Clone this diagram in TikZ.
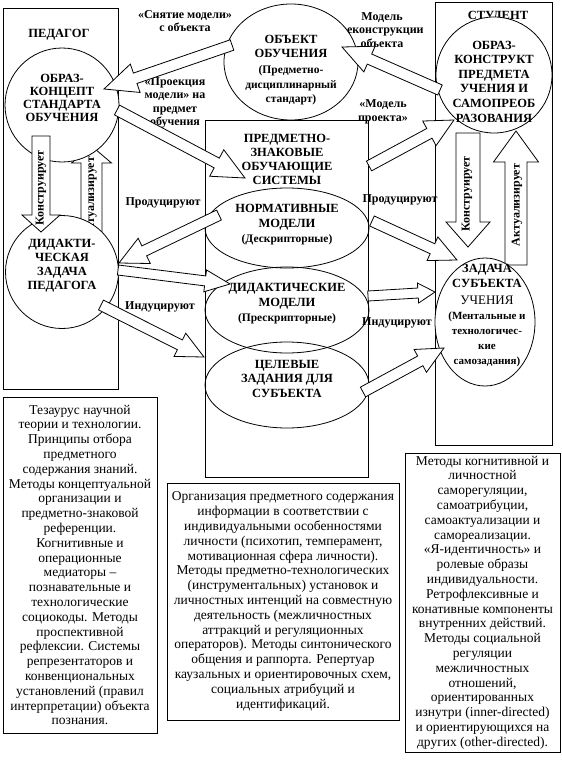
\documentclass[tikz,border=0pt]{standalone}
\usepackage{fontspec}
\setmainfont{Liberation Serif}
\usetikzlibrary{calc,shapes.geometric}
\tikzset{
  frame/.style={draw, line width=0.8pt, inner sep=0pt, outer sep=0pt},
  circ/.style={draw, ellipse, line width=0.8pt, inner sep=0pt, outer sep=0pt},
  wcirc/.style={circ, fill=white},
  hd/.style={font=\bfseries\fontsize{12.5}{14}\selectfont, align=center, inner sep=0pt},
  sm/.style={font=\bfseries\fontsize{11.5}{14.5}\selectfont, align=center, inner sep=0pt},
  lbl/.style={font=\bfseries\fontsize{12}{13.5}\selectfont, align=center, inner sep=0pt},
  rot/.style={font=\bfseries\fontsize{12}{13}\selectfont, inner sep=0pt, rotate=90},
  body/.style={font=\fontsize{13.5}{14.8}\selectfont, align=center},
  barr/.style={draw, fill=white, line width=0.8pt, line join=miter},
}
% #1 tail, #2 tip, #3 shaft half width, #4 head half width, #5 head length, #6 name of head base
\newcommand{\blockarr}[6]{%
  \coordinate (#6) at ($(#2)!#5!(#1)$);
  \draw[barr] ($(#1)!#3!90:(#2)$) -- ($(#6)!#3!90:(#2)$) -- ($(#6)!#4!90:(#2)$) -- (#2)
    -- ($(#6)!#4!-90:(#2)$) -- ($(#6)!#3!-90:(#2)$) -- ($(#1)!#3!-90:(#2)$) -- cycle;
}
\begin{document}
\begin{tikzpicture}[x=1pt,y=-1pt]
\useasboundingbox[fill=white] (0,0) rectangle (562,763);

% ---------- connector labels ----------
\node[lbl] (l-snyat) at (185,21) {«Снятие модели»\\с объекта};
\node[lbl] (l-proek) at (175,103) {«Проекция\\модели» на\\предмет\\обучения};
\node[lbl] (l-rekon) at (382,30) {Модель\\реконструкции\\объекта};
\node[lbl] (l-mproj) at (383,112) {«Модель\\проекта»};
\node[lbl] (l-prodL) at (163,203) {Продуцируют};
\node[lbl] (l-indL) at (160,307) {Индуцируют};
\node[lbl] (l-prodR) at (400,200) {Продуцируют};
\node[lbl] (l-indR) at (397,323) {Индуцируют};

% ---------- frames ----------
\node[frame, minimum width=115pt, minimum height=381pt] (ped) at (60.5,198.5) {};
\node[hd] (ped-t) at (59,35) {ПЕДАГОГ};
\node[frame, minimum width=117pt, minimum height=443pt] (stud) at (493.5,223.5) {};
\node[hd] (stud-t) at (498,17) {СТУДЕНТ};
\node[frame, minimum width=163pt, minimum height=357pt] (sys) at (286.5,298.5) {};

% ---------- bottom text boxes ----------
\node[frame, body, minimum width=154pt, minimum height=336pt] (txtL) at (80,565) {Тезаурус научной\\теории и технологии.\\Принципы отбора\\предметного\\содержания знаний.\\Методы концептуальной\\организации и\\предметно-знаковой\\референции.\\Когнитивные и\\операционные\\медиаторы –\\познавательные и\\технологические\\социокоды. Методы\\проспективной\\рефлексии. Системы\\репрезентаторов и\\конвенциональных\\установлений (правил\\интерпретации) объекта\\познания.};
\node[frame, body, minimum width=232pt, minimum height=237pt] (txtM) at (283,601.5) {Организация предметного содержания\\информации в соответствии с\\индивидуальными особенностями\\личности (психотип, темперамент,\\мотивационная сфера личности).\\Методы предметно-технологических\\(инструментальных) установок и\\личностных интенций на совместную\\деятельность (межличностных\\аттракций и регуляционных\\операторов). Методы синтонического\\общения и раппорта. Репертуар\\каузальных и ориентировочных схем,\\социальных атрибуций и\\идентификаций.};
\node[frame, body, minimum width=155pt, minimum height=299pt] (txtR) at (482.5,602.5) {Методы когнитивной и\\личностной\\саморегуляции,\\самоатрибуции,\\самоактуализации и\\самореализации.\\«Я-идентичность» и\\ролевые образы\\индивидуальности.\\Ретрофлексивные и\\конативные компоненты\\внутренних действий.\\Методы социальной\\регуляции\\межличностных\\отношений,\\ориентированных\\изнутри (inner-directed)\\и ориентирующихся на\\других (other-directed).};

% ---------- central ellipses ----------
\node[circ, minimum width=164pt, minimum height=80pt] (norm) at (287,228) {};
\node[circ, minimum width=164pt, minimum height=86pt] (didm) at (287,310) {};
\node[circ, minimum width=164pt, minimum height=86pt] (cel) at (287,385) {};

% ---------- up arrows (behind circles) ----------
\coordinate (upL-s) at (91.5,240);
\coordinate (upL-e) at (91.5,146);
\blockarr{upL-s}{upL-e}{10.5pt}{20pt}{17pt}{upL-b}
\node[rot] (upL-t) at (91.5,198) {Актуализирует};
\coordinate (upR-s) at (516,265);
\coordinate (upR-e) at (516,131);
\blockarr{upR-s}{upR-e}{11pt}{22.5pt}{31pt}{upR-b}
\node[rot] (upR-t) at (517,205) {Актуализирует};

% ---------- side circles ----------
\node[wcirc, minimum width=114pt, minimum height=114pt] (konc) at (62,105) {};
\node[hd, font=\bfseries\fontsize{12.5}{13}\selectfont] (konc-t) at (62,98) {ОБРАЗ-\\КОНЦЕПТ\\СТАНДАРТА\\ОБУЧЕНИЯ};
\node[wcirc, minimum width=113pt, minimum height=113pt] (didz) at (62,272) {};
\node[hd] (didz-t) at (62,266) {ДИДАКТИ-\\ЧЕСКАЯ\\ЗАДАЧА\\ПЕДАГОГА};
\node[wcirc, minimum width=134pt, minimum height=116pt] (obj) at (291,62) {};
\node[hd] (obj-t1) at (291,46) {ОБЪЕКТ\\ОБУЧЕНИЯ};
\node[sm] (obj-t2) at (291,85.5) {(Предметно-\\дисциплинарный\\стандарт)};
\node[wcirc, minimum width=116pt, minimum height=116pt] (kons) at (494,75) {};
\node[hd, font=\bfseries\fontsize{12.5}{14.6}\selectfont] (kons-t) at (494,81.5) {ОБРАЗ-\\КОНСТРУКТ\\ПРЕДМЕТА\\УЧЕНИЯ И\\САМОПРЕОБ\\РАЗОВАНИЯ};
\node[wcirc, minimum width=100pt, minimum height=128pt] (zad) at (485,322) {};
\node[hd, font=\bfseries\fontsize{12.5}{15}\selectfont] (zad-t1) at (487,275.5) {ЗАДАЧА\\СУБЪЕКТА};
\node[inner sep=0pt, font=\fontsize{13}{15}\selectfont] (zad-t2) at (487,300) {УЧЕНИЯ};
\node[sm, font=\bfseries\fontsize{11}{15}\selectfont] (zad-t3) at (487,339.5) {(Ментальные и\\технологичес-\\кие\\самозадания)};

% ---------- down arrows ----------
\coordinate (dnL-s) at (41,136);
\coordinate (dnL-e) at (41,232);
\blockarr{dnL-s}{dnL-e}{9pt}{19pt}{17pt}{dnL-b}
\node[rot] (dnL-t) at (41,188) {Конструирует};
\coordinate (dnR-s) at (468,133);
\coordinate (dnR-e) at (468,247);
\blockarr{dnR-s}{dnR-e}{12pt}{22pt}{25pt}{dnR-b}
\node[rot] (dnR-t) at (467,194) {Конструирует};

% ---------- diagonal block arrows ----------
\coordinate (a1s) at (232,45);   \coordinate (a1e) at (104,89);
\blockarr{a1s}{a1e}{5.5pt}{15pt}{33pt}{a1b}
\coordinate (a2s) at (117,110);  \coordinate (a2e) at (245,178);
\blockarr{a2s}{a2e}{5.5pt}{15pt}{32pt}{a2b}
\coordinate (a3s) at (440,90);   \coordinate (a3e) at (342,47);
\blockarr{a3s}{a3e}{5.5pt}{14pt}{30pt}{a3b}
\coordinate (a4s) at (369,166);  \coordinate (a4e) at (454,120);
\blockarr{a4s}{a4e}{5.5pt}{14pt}{28pt}{a4b}
\coordinate (a5s) at (219,215);  \coordinate (a5e) at (119,263);
\blockarr{a5s}{a5e}{5.5pt}{14pt}{28pt}{a5b}
\coordinate (a6s) at (118,270);  \coordinate (a6e) at (230,284);
\blockarr{a6s}{a6e}{5pt}{11pt}{25pt}{a6b}
\coordinate (a7s) at (101,305);  \coordinate (a7e) at (204,357);
\blockarr{a7s}{a7e}{5.5pt}{13pt}{27pt}{a7b}
\coordinate (a8s) at (372,221);  \coordinate (a8e) at (457,260);
\blockarr{a8s}{a8e}{5.5pt}{13pt}{27pt}{a8b}
\coordinate (a9s) at (368,296);  \coordinate (a9e) at (435,292);
\blockarr{a9s}{a9e}{5pt}{10pt}{17pt}{a9b}
\coordinate (a10s) at (363,392); \coordinate (a10e) at (444,348);
\blockarr{a10s}{a10e}{5.5pt}{13pt}{27pt}{a10b}

% ---------- central texts ----------
\node[hd] (sys-t) at (287,159) {ПРЕДМЕТНО-\\ЗНАКОВЫЕ\\ОБУЧАЮЩИЕ\\СИСТЕМЫ};
\node[hd, font=\bfseries\fontsize{12.5}{15}\selectfont] (norm-t1) at (287,217.5) {НОРМАТИВНЫЕ\\МОДЕЛИ};
\node[sm] (norm-t2) at (287,240) {(Дескрипторные)};
\node[hd, font=\bfseries\fontsize{12.5}{14.5}\selectfont] (didm-t1) at (287,296) {ДИДАКТИЧЕСКИЕ\\МОДЕЛИ};
\node[sm] (didm-t2) at (287,319) {(Прескрипторные)};
\node[hd, font=\bfseries\fontsize{12.5}{14.5}\selectfont] (cel-t) at (287,378.5) {ЦЕЛЕВЫЕ\\ЗАДАНИЯ ДЛЯ\\СУБЪЕКТА};
\end{tikzpicture}
\end{document}
